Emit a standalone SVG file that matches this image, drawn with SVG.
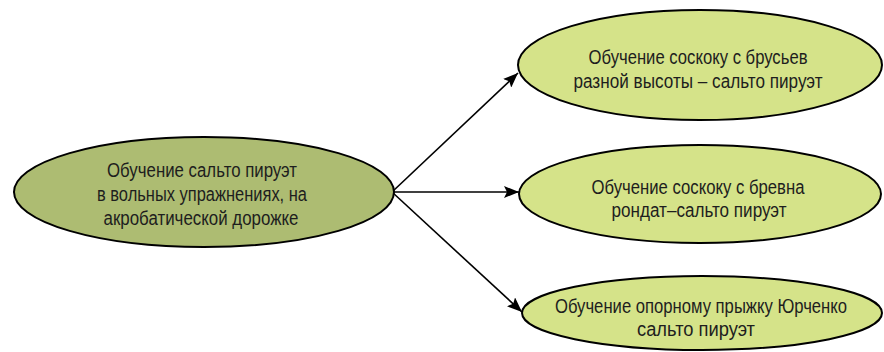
<svg xmlns="http://www.w3.org/2000/svg" width="884" height="352" viewBox="0 0 884 352">
<defs>
<marker id="arr" markerUnits="userSpaceOnUse" markerWidth="16" markerHeight="12" refX="15" refY="6" orient="auto">
<path d="M0,0 L15,6 L0,12 L3,6 Z" fill="#000"/>
</marker>
<style>
.main{fill:#adbc72;stroke:#000;stroke-width:2}
.sub{fill:#d5e389;stroke:#000;stroke-width:2}
.t{font-family:"Liberation Sans",Arial,sans-serif;font-size:20px;fill:#1e1e1e;text-anchor:middle}
.c{stroke:#000;stroke-width:1.6;fill:none;marker-end:url(#arr)}
</style>
</defs>
<rect width="884" height="352" fill="#fff"/>
<g id="connectors">
<line class="c" x1="392" y1="192" x2="518" y2="73"/>
<line class="c" x1="392" y1="192" x2="519" y2="192"/>
<line class="c" x1="392" y1="192" x2="522" y2="312"/>
</g>
<g id="node-main">
<ellipse class="main" cx="204" cy="192" rx="190" ry="55"/>
<text class="t" x="202" y="177" textLength="190" lengthAdjust="spacingAndGlyphs">Обучение сальто пируэт</text>
<text class="t" x="202" y="201" textLength="210" lengthAdjust="spacingAndGlyphs">в вольных упражнениях, на</text>
<text class="t" x="201" y="225" textLength="195" lengthAdjust="spacingAndGlyphs">акробатической дорожке</text>
</g>
<g id="node-bars">
<ellipse class="sub" cx="700" cy="65" rx="182" ry="55"/>
<text class="t" x="698" y="64" textLength="219" lengthAdjust="spacingAndGlyphs">Обучение соскоку с брусьев</text>
<text class="t" x="698" y="88" textLength="249" lengthAdjust="spacingAndGlyphs">разной высоты – сальто пируэт</text>
</g>
<g id="node-beam">
<ellipse class="sub" cx="700" cy="194" rx="181" ry="49"/>
<text class="t" x="698" y="194" textLength="213" lengthAdjust="spacingAndGlyphs">Обучение соскоку с бревна</text>
<text class="t" x="699" y="217" textLength="175" lengthAdjust="spacingAndGlyphs">рондат–сальто пируэт</text>
</g>
<g id="node-vault">
<ellipse class="sub" cx="702" cy="313" rx="180" ry="37"/>
<text class="t" x="701" y="313" textLength="292" lengthAdjust="spacingAndGlyphs">Обучение опорному прыжку Юрченко</text>
<text class="t" x="696" y="336" textLength="118" lengthAdjust="spacingAndGlyphs">сальто пируэт</text>
</g>
</svg>
